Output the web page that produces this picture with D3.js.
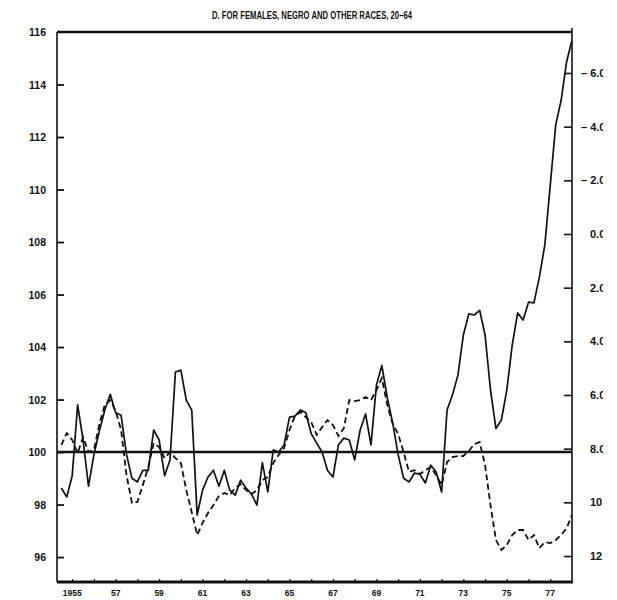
<!DOCTYPE html>
<html>
<head>
<meta charset="utf-8">
<script src="https://cdn.jsdelivr.net/npm/d3@7"></script>
<style>
  body { margin: 0; background: #fff; }
  text { font-family: "Liberation Sans", Arial, sans-serif; font-weight: bold; fill: #111; }
</style>
</head>
<body>
<div id="chart"></div>
<script>
// quarterly index values, first point 1954 Q3
const startYear = 1954.5;

const solidValues = [
  98.63, 98.29, 99.1, 101.8, 100.45, 98.7, 99.9, 100.8, 101.6, 102.2,
  101.5, 101.4, 99.9, 99.0, 98.86, 99.3, 99.3, 100.84, 100.46, 99.1,
  99.7, 103.05, 103.12, 101.98, 101.6, 97.6, 98.55, 99.05, 99.31, 98.7,
  99.3, 98.55, 98.36, 98.93, 98.63, 98.4, 97.98, 99.6, 98.48, 100.08,
  100.0, 100.27, 101.33, 101.37, 101.6, 101.5, 100.7, 100.34, 100.0, 99.3,
  99.05, 100.27, 100.53, 100.46, 99.7, 100.84, 101.45, 100.27, 102.55, 103.3,
  102.06, 101.1, 99.9, 99.0, 98.86, 99.2, 99.16, 98.82, 99.5, 99.24,
  98.48, 101.6, 102.17, 102.93, 104.46, 105.26, 105.22, 105.4, 104.46, 102.36,
  100.9, 101.22, 102.36, 104.08, 105.3, 105.03, 105.71, 105.68, 106.67, 107.89,
  110.17, 112.46, 113.4, 114.86, 115.7
];

const dashedValues = [
  100.27, 100.72, 100.46, 99.96, 100.57, 100.0, 100.08, 101.07, 101.79, 101.98,
  101.56, 100.84, 99.12, 98.06, 98.1, 98.74, 99.43, 100.34, 100.19, 99.77,
  100.0, 99.77, 99.58, 98.55, 97.71, 96.84, 97.3, 97.68, 97.98, 98.32,
  98.44, 98.36, 98.63, 98.78, 98.55, 98.4, 98.55, 98.93, 99.05, 99.58,
  99.89, 100.15, 100.84, 101.37, 101.52, 101.33, 101.14, 100.65, 100.95, 101.22,
  101.03, 100.61, 100.91, 101.98, 101.94, 101.98, 102.1, 101.98, 102.36, 102.82,
  101.79, 101.07, 100.69, 100.0, 99.24, 99.31, 99.16, 99.31, 99.43, 99.12,
  98.74, 99.62, 99.81, 99.85, 99.85, 100.04, 100.3, 100.38, 99.5, 97.98,
  96.65, 96.27, 96.46, 96.84, 97.03, 97.03, 96.65, 96.84, 96.34, 96.57,
  96.53, 96.65, 96.84, 97.1, 97.6
];

const leftTicks = [96, 98, 100, 102, 104, 106, 108, 110, 112, 114, 116];
const rightTicks = [-6, -4, -2, 0, 2, 4, 6, 8, 10, 12];
const rightLabels = ["-6.0", "-4.0", "-2.0", "0.0", "2.0", "4.0", "6.0", "8.0", "10.0", "12.0"];
const yearTicks = [1955, 1957, 1959, 1961, 1963, 1965, 1967, 1969, 1971, 1973, 1975, 1977];
const yearLabels = ["1955", "57", "59", "61", "63", "65", "67", "69", "71", "73", "75", "77"];
const title = "D.  FOR FEMALES, NEGRO AND OTHER RACES, 20\u201364";

const W = 617, H = 600;
const L = 57, R = 572, T = 32, B = 582;

const x = d3.scaleLinear().domain([1954.3, 1978.0]).range([L, R]);
const y = d3.scaleLinear().domain([95.05, 116]).range([B, T]);
const yR = d3.scaleLinear().domain([-6, 12]).range([73, 556]);

const svg = d3.select('#chart').append('svg')
  .attr('width', W)
  .attr('height', H);

svg.append('defs').append('clipPath').attr('id', 'plotclip')
  .append('rect').attr('x', L).attr('y', T - 4).attr('width', R - L).attr('height', B - T + 4);
// the scan cuts the right-hand labels off
svg.select('defs').append('clipPath').attr('id', 'rclip')
  .append('rect').attr('x', R + 2).attr('y', 0).attr('width', 603 - R - 2).attr('height', H);

// title
svg.append('text')
  .attr('x', 312).attr('y', 19)
  .attr('text-anchor', 'middle')
  .attr('font-size', 10)
  .attr('textLength', 200)
  .attr('lengthAdjust', 'spacingAndGlyphs')
  .text(title);

// frame
const frame = svg.append('g').attr('stroke', '#111').attr('fill', 'none');
frame.append('line').attr('x1', L).attr('x2', R).attr('y1', T).attr('y2', T).attr('stroke-width', 2.5);
frame.append('line').attr('x1', L).attr('x2', L).attr('y1', T).attr('y2', B).attr('stroke-width', 1.6);
frame.append('line').attr('x1', R).attr('x2', R).attr('y1', T - 4).attr('y2', B).attr('stroke-width', 1.6);
frame.append('line').attr('x1', L).attr('x2', R + 1).attr('y1', B).attr('y2', B).attr('stroke-width', 3);

// left axis
const yAxis = d3.axisRight(y)
  .tickValues(leftTicks.filter(d => d < 116))
  .tickSize(7)
  .tickFormat('');
svg.append('g').attr('transform', `translate(${L},0)`).call(yAxis)
  .call(g => g.select('.domain').remove())
  .call(g => g.selectAll('line').attr('stroke', '#111').attr('stroke-width', 1.8));

svg.append('g').selectAll('text').data(leftTicks).join('text')
  .attr('x', 46).attr('y', d => y(d) + 4)
  .attr('text-anchor', 'end')
  .attr('font-size', 10.5)
  .text(d => d);

// right axis
const yAxisR = d3.axisLeft(yR)
  .tickValues(rightTicks)
  .tickSize(8)
  .tickFormat('');
svg.append('g').attr('transform', `translate(${R},0)`).call(yAxisR)
  .call(g => g.select('.domain').remove())
  .call(g => g.selectAll('line').attr('stroke', '#111').attr('stroke-width', 1.6));

svg.append('g').attr('clip-path', 'url(#rclip)')
  .selectAll('text').data(rightTicks).join('text')
  .attr('x', d => d < 0 ? 581 : 590)
  .attr('y', d => yR(d) + 4)
  .attr('font-size', 11)
  .text((d, i) => d < 0 ? '\u2013 ' + rightLabels[i].slice(1) : rightLabels[i]);

// bottom axis
const xAxis = d3.axisTop(x)
  .tickValues(d3.range(1955, 1978))
  .tickSize(3)
  .tickFormat('');
svg.append('g').attr('transform', `translate(0,${B})`).call(xAxis)
  .call(g => g.select('.domain').remove())
  .call(g => g.selectAll('line').attr('stroke', '#111').attr('stroke-width', 1.2));

svg.append('g').selectAll('text').data(yearTicks).join('text')
  .attr('x', d => x(d))
  .attr('y', 596)
  .attr('text-anchor', 'middle')
  .attr('font-size', 8.5)
  .text((d, i) => yearLabels[i]);

// base line at 100
svg.append('line')
  .attr('x1', L).attr('x2', R)
  .attr('y1', y(100)).attr('y2', y(100))
  .attr('stroke', '#111').attr('stroke-width', 2.6);

const line = d3.line()
  .x((d, i) => x(startYear + i / 4))
  .y(d => y(d));

const plot = svg.append('g').attr('clip-path', 'url(#plotclip)');

plot.append('path')
  .datum(dashedValues)
  .attr('d', line)
  .attr('fill', 'none')
  .attr('stroke', '#111')
  .attr('stroke-width', 1.8)
  .attr('stroke-dasharray', '6,3.5');

plot.append('path')
  .datum(solidValues)
  .attr('d', line)
  .attr('fill', 'none')
  .attr('stroke', '#111')
  .attr('stroke-width', 1.7)
  .attr('stroke-linejoin', 'round');
</script>
</body>
</html>
